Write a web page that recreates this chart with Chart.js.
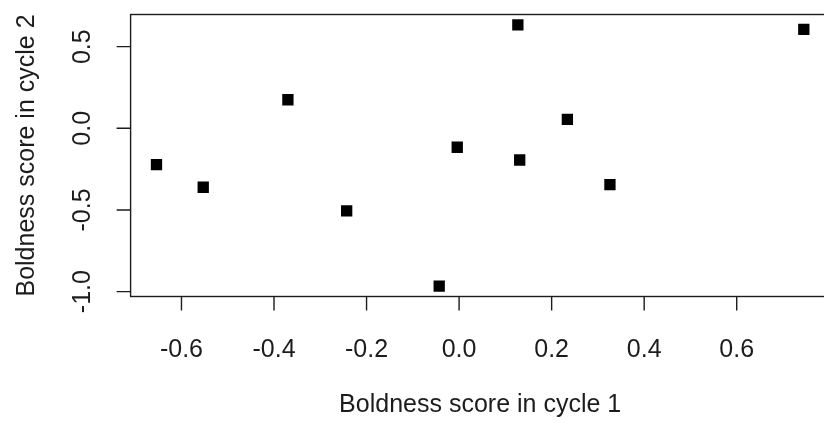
<!DOCTYPE html>
<html>
<head>
<meta charset="utf-8">
<title>Boldness scores</title>
<script src="https://cdn.jsdelivr.net/npm/chart.js@4/dist/chart.umd.min.js"></script>
<style>
  html, body { margin: 0; padding: 0; background: #ffffff; overflow: hidden; }
  #wrap { width: 824px; height: 428px; overflow: hidden; position: relative; }
  canvas { display: block; }
</style>
</head>
<body>
<div id="wrap"><canvas id="plot" width="840" height="428"></canvas></div>
<script>
// Boldness score of each individual in cycle 1 (x) and cycle 2 (y)
const boldnessCycle1 = [-0.654, -0.553, -0.370, -0.243, -0.043, -0.004, 0.127, 0.131, 0.234, 0.326, 0.745];
const boldnessCycle2 = [-0.222, -0.361, 0.175, -0.506, -0.966, -0.116, 0.633, -0.194, 0.055, -0.345, 0.606];

// Axis ticks and titles
const xTickValues = [-0.6, -0.4, -0.2, 0.0, 0.2, 0.4, 0.6];
const xTickLabels = ['-0.6', '-0.4', '-0.2', '0.0', '0.2', '0.4', '0.6'];
const yTickValues = [-1.0, -0.5, 0.0, 0.5];
const yTickLabels = ['-1.0', '-0.5', '0.0', '0.5'];
const xTitle = 'Boldness score in cycle 1';
const yTitle = 'Boldness score in cycle 2';

// Axis limits: data range widened by 4% on each side
function paddedRange(values) {
  const lo = Math.min(...values), hi = Math.max(...values);
  const pad = (hi - lo) * 0.04;
  return [lo - pad, hi + pad];
}
const [xMin, xMax] = paddedRange(boldnessCycle1);
const [yMin, yMax] = paddedRange(boldnessCycle2);

const points = boldnessCycle1.map((x, i) => ({ x: x, y: boldnessCycle2[i] }));

const FONT = '25px "Liberation Sans", Arial, sans-serif';
const INK = '#1c1c1c';
const TICK_LEN = 14;

// Frame, tick marks and labels in the style of a base-graphics plot
const framePlot = {
  id: 'framePlot',
  afterDraw(chart) {
    const ctx = chart.ctx;
    const area = chart.chartArea;
    const xs = chart.scales.x, ys = chart.scales.y;
    ctx.save();
    ctx.strokeStyle = INK;
    ctx.lineWidth = 1.4;
    ctx.strokeRect(area.left, area.top, area.right - area.left, area.bottom - area.top);

    // x axis ticks
    ctx.beginPath();
    xTickValues.forEach(v => {
      const px = xs.getPixelForValue(v);
      ctx.moveTo(px, area.bottom);
      ctx.lineTo(px, area.bottom + TICK_LEN);
    });
    // y axis ticks
    yTickValues.forEach(v => {
      const py = ys.getPixelForValue(v);
      ctx.moveTo(area.left, py);
      ctx.lineTo(area.left - TICK_LEN, py);
    });
    ctx.stroke();

    ctx.fillStyle = INK;
    ctx.font = FONT;
    ctx.textAlign = 'center';
    ctx.textBaseline = 'alphabetic';
    xTickValues.forEach((v, i) => {
      ctx.fillText(xTickLabels[i], xs.getPixelForValue(v), area.bottom + 60);
    });
    ctx.fillText(xTitle, (area.left + area.right) / 2, area.bottom + 115);

    yTickValues.forEach((v, i) => {
      ctx.save();
      ctx.translate(area.left - 41, ys.getPixelForValue(v));
      ctx.rotate(-Math.PI / 2);
      ctx.fillText(yTickLabels[i], 0, 0);
      ctx.restore();
    });
    ctx.save();
    ctx.translate(area.left - 97, (area.top + area.bottom) / 2);
    ctx.rotate(-Math.PI / 2);
    ctx.fillText(yTitle, 0, 0);
    ctx.restore();
    ctx.restore();
  }
};

new Chart(document.getElementById('plot'), {
  type: 'scatter',
  data: {
    datasets: [{
      data: points,
      pointStyle: 'rect',
      pointRadius: 8,
      pointHoverRadius: 8,
      backgroundColor: '#000000',
      borderWidth: 0
    }]
  },
  options: {
    responsive: false,
    animation: false,
    events: [],
    layout: { padding: { top: 14.5, right: 10.3, left: 0, bottom: 0 } },
    plugins: { legend: { display: false }, tooltip: { enabled: false } },
    scales: {
      x: {
        type: 'linear', min: xMin, max: xMax,
        ticks: { display: false }, grid: { display: false }, border: { display: false },
        afterFit(scale) { scale.height = 131.5; }
      },
      y: {
        type: 'linear', min: yMin, max: yMax,
        ticks: { display: false }, grid: { display: false }, border: { display: false },
        afterFit(scale) { scale.width = 130.6; }
      }
    }
  },
  plugins: [framePlot]
});
</script>
</body>
</html>
